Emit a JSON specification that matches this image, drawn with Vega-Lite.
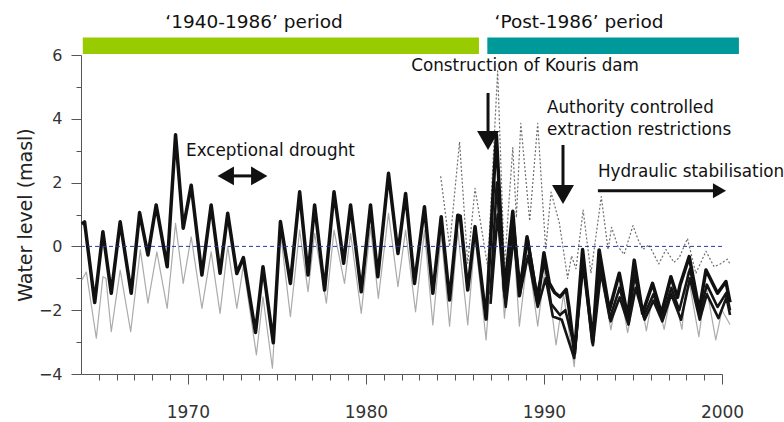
{
  "$schema": "https://vega.github.io/schema/vega-lite/v6.json",
  "width": 641,
  "height": 319,
  "autosize": {"type": "none"},
  "padding": {"left": 81, "top": 55, "right": 62, "bottom": 48},
  "background": "white",
  "config": {
    "view": {"stroke": null},
    "axis": {"grid": false, "domainColor": "#555555", "tickColor": "#555555", "labelColor": "#333333", "labelFont": "DejaVu Sans", "titleFont": "DejaVu Sans", "titleFontWeight": "normal"}
  },
  "datasets": {
    "a": [
      {"x":1964.05,"y":0.70},{"x":1964.2,"y":0.77},{"x":1964.77,"y":-1.76},{"x":1965.23,"y":0.46},{"x":1965.7,"y":-1.47},
      {"x":1966.2,"y":0.77},{"x":1966.82,"y":-1.47},{"x":1967.29,"y":1.06},{"x":1967.76,"y":-0.27},{"x":1968.22,"y":1.30},
      {"x":1968.84,"y":-0.64},{"x":1969.31,"y":3.5},{"x":1969.74,"y":0.57},{"x":1970.19,"y":1.92},{"x":1970.79,"y":-0.90},
      {"x":1971.31,"y":1.30},{"x":1971.81,"y":-0.84},{"x":1972.24,"y":1.04},{"x":1972.75,"y":-0.85},{"x":1973.12,"y":-0.35},
      {"x":1973.8,"y":-2.7},{"x":1974.22,"y":-0.64},{"x":1974.8,"y":-3.02},{"x":1975.2,"y":0.78},{"x":1975.76,"y":-1.16},
      {"x":1976.28,"y":1.71},{"x":1976.75,"y":-0.90},{"x":1977.12,"y":1.30},{"x":1977.68,"y":-1.37},{"x":1978.21,"y":1.71},
      {"x":1978.75,"y":-0.53},{"x":1979.14,"y":1.30},{"x":1979.74,"y":-1.42},{"x":1980.26,"y":1.30},{"x":1980.67,"y":-0.95},
      {"x":1981.27,"y":2.29},{"x":1981.8,"y":-0.22},{"x":1982.23,"y":1.66},{"x":1982.73,"y":-1.16},{"x":1983.29,"y":1.24},
      {"x":1983.76,"y":-1.47},{"x":1984.23,"y":0.93},{"x":1984.7,"y":-1.68},{"x":1985.16,"y":0.98},{"x":1985.3,"y":0.95},
      {"x":1985.72,"y":-1.37},{"x":1986.13,"y":0.62},{"x":1986.75,"y":-2.28},{"x":1987.33,"y":3.5},{"x":1987.78,"y":-1.4},
      {"x":1988.25,"y":1.1},{"x":1988.62,"y":-1.55},{"x":1989.05,"y":0.3},{"x":1989.65,"y":-1.75},{"x":1990.0,"y":-0.2},
      {"x":1990.3,"y":-1.15},{"x":1990.6,"y":-1.45},{"x":1990.9,"y":-1.58},{"x":1991.25,"y":-1.35},{"x":1991.4,"y":-1.9},
      {"x":1991.72,"y":-3.35},{"x":1992.17,"y":-0.1},{"x":1992.73,"y":-3.0},{"x":1993.1,"y":-0.11},{"x":1993.67,"y":-2.0},
      {"x":1994.23,"y":-0.84},{"x":1994.7,"y":-2.2},{"x":1995.07,"y":-0.43},{"x":1995.54,"y":-2.1},{"x":1996.1,"y":-1.16},
      {"x":1996.6,"y":-2.1},{"x":1997.13,"y":-0.95},{"x":1997.5,"y":-1.6},{"x":1997.65,"y":-1.2},{"x":1998.16,"y":-0.32},
      {"x":1998.72,"y":-2.0},{"x":1999.1,"y":-0.74},{"x":1999.75,"y":-1.47},{"x":2000.22,"y":-1.1},{"x":2000.45,"y":-1.75}
    ],
    "b": [
      {"x":1987.0,"y":-1.5},{"x":1987.35,"y":2.0},{"x":1987.8,"y":-1.6},{"x":1988.3,"y":0.7},{"x":1988.65,"y":-1.2},
      {"x":1989.1,"y":0.2},{"x":1989.6,"y":-1.5},{"x":1990.05,"y":-0.5},{"x":1990.4,"y":-1.8},{"x":1990.9,"y":-2.15},
      {"x":1991.2,"y":-2.0},{"x":1991.75,"y":-3.2},{"x":1992.2,"y":-0.4},{"x":1992.75,"y":-2.9},{"x":1993.15,"y":-0.5},
      {"x":1993.7,"y":-2.25},{"x":1994.25,"y":-1.3},{"x":1994.75,"y":-2.35},{"x":1995.1,"y":-0.9},{"x":1995.6,"y":-2.2},
      {"x":1996.15,"y":-1.5},{"x":1996.65,"y":-2.25},{"x":1997.15,"y":-1.3},{"x":1997.6,"y":-2.0},{"x":1998.2,"y":-0.7},
      {"x":1998.75,"y":-2.1},{"x":1999.15,"y":-1.2},{"x":1999.75,"y":-1.9},{"x":2000.25,"y":-1.45},{"x":2000.45,"y":-2.0}
    ],
    "c": [
      {"x":1987.0,"y":-1.8},{"x":1987.4,"y":1.0},{"x":1987.85,"y":-1.9},{"x":1988.3,"y":0.3},{"x":1988.65,"y":-1.5},
      {"x":1989.1,"y":-0.3},{"x":1989.65,"y":-1.9},{"x":1990.1,"y":-1.0},{"x":1990.5,"y":-2.2},{"x":1991.0,"y":-2.3},
      {"x":1991.7,"y":-3.5},{"x":1992.2,"y":-0.6},{"x":1992.75,"y":-3.1},{"x":1993.2,"y":-0.8},{"x":1993.75,"y":-2.35},
      {"x":1994.25,"y":-1.6},{"x":1994.75,"y":-2.45},{"x":1995.15,"y":-1.3},{"x":1995.65,"y":-2.3},{"x":1996.15,"y":-1.7},
      {"x":1996.65,"y":-2.35},{"x":1997.15,"y":-1.5},{"x":1997.7,"y":-2.3},{"x":1998.2,"y":-1.0},{"x":1998.75,"y":-2.3},
      {"x":1999.15,"y":-1.5},{"x":1999.8,"y":-2.25},{"x":2000.25,"y":-1.6},{"x":2000.45,"y":-2.15}
    ],
    "g": [
      {"x":1964.05,"y":-1.05},{"x":1964.3,"y":-0.8},{"x":1964.86,"y":-2.88},{"x":1965.23,"y":-0.95},{"x":1965.4,"y":-1.0},
      {"x":1965.7,"y":-2.67},{"x":1966.2,"y":-0.74},{"x":1966.79,"y":-2.67},{"x":1967.33,"y":-0.11},{"x":1967.76,"y":-1.78},
      {"x":1968.26,"y":-0.17},{"x":1968.84,"y":-1.94},{"x":1969.31,"y":0.72},{"x":1969.74,"y":-1.16},{"x":1970.19,"y":0.30},
      {"x":1970.79,"y":-1.94},{"x":1971.31,"y":-0.17},{"x":1971.81,"y":-2.10},{"x":1972.24,"y":0.0},{"x":1972.75,"y":-1.94},
      {"x":1973.12,"y":-0.6},{"x":1973.85,"y":-3.4},{"x":1974.22,"y":-1.58},{"x":1974.75,"y":-3.82},{"x":1975.2,"y":0.45},
      {"x":1975.76,"y":-2.2},{"x":1976.28,"y":0.51},{"x":1976.75,"y":-1.42},{"x":1977.12,"y":0.41},{"x":1977.78,"y":-1.78},
      {"x":1978.21,"y":0.51},{"x":1978.8,"y":-1.16},{"x":1979.14,"y":0.41},{"x":1979.74,"y":-2.10},{"x":1980.26,"y":0.61},
      {"x":1980.7,"y":-1.63},{"x":1981.27,"y":1.04},{"x":1981.8,"y":-1.26},{"x":1982.23,"y":0.51},{"x":1982.79,"y":-2.05},
      {"x":1983.29,"y":0.5},{"x":1983.76,"y":-2.46},{"x":1984.23,"y":0.4},{"x":1984.7,"y":-2.5},{"x":1985.16,"y":0.5},
      {"x":1985.72,"y":-2.46},{"x":1986.13,"y":0.3},{"x":1986.75,"y":-2.93},{"x":1987.35,"y":1.5},{"x":1987.78,"y":-2.25},
      {"x":1988.25,"y":0.6},{"x":1988.62,"y":-2.5},{"x":1989.1,"y":-0.2},{"x":1989.65,"y":-2.5},{"x":1990.1,"y":-0.5},
      {"x":1990.68,"y":-3.09},{"x":1991.1,"y":-1.5},{"x":1991.7,"y":-3.77},{"x":1992.17,"y":-0.4},{"x":1992.73,"y":-3.1},
      {"x":1993.1,"y":-0.6},{"x":1993.76,"y":-2.62},{"x":1994.23,"y":-1.2},{"x":1994.7,"y":-2.7},{"x":1995.26,"y":-1.1},
      {"x":1995.75,"y":-2.65},{"x":1996.2,"y":-1.3},{"x":1996.75,"y":-2.6},{"x":1997.2,"y":-1.3},{"x":1997.75,"y":-2.6},
      {"x":1998.06,"y":-0.8},{"x":1998.7,"y":-2.83},{"x":1999.1,"y":-1.2},{"x":1999.65,"y":-2.93},{"x":2000.0,"y":-2.0},
      {"x":2000.45,"y":-2.45}
    ],
    "d": [
      {"x":1984.2,"y":2.2},{"x":1984.7,"y":0.0},{"x":1985.26,"y":3.28},{"x":1985.72,"y":-0.53},{"x":1986.13,"y":1.82},
      {"x":1986.84,"y":-0.64},{"x":1987.4,"y":5.5},{"x":1987.78,"y":-0.64},{"x":1988.25,"y":3.1},{"x":1988.45,"y":0.9},
      {"x":1988.7,"y":3.86},{"x":1989.2,"y":0.8},{"x":1989.65,"y":3.86},{"x":1990.1,"y":-0.1},{"x":1990.4,"y":1.7},
      {"x":1990.86,"y":0.75},{"x":1991.33,"y":-1.0},{"x":1991.55,"y":-0.3},{"x":1991.8,"y":-0.7},{"x":1992.2,"y":1.14},
      {"x":1992.64,"y":-0.84},{"x":1993.22,"y":1.56},{"x":1993.6,"y":-0.1},{"x":1993.8,"y":0.6},{"x":1994.15,"y":0.0},
      {"x":1994.5,"y":-0.25},{"x":1995.0,"y":0.65},{"x":1995.3,"y":0.2},{"x":1995.55,"y":-0.1},{"x":1995.9,"y":0.05},
      {"x":1996.45,"y":-0.55},{"x":1996.85,"y":-0.1},{"x":1997.3,"y":-0.5},{"x":1997.6,"y":-0.35},{"x":1998.06,"y":0.25},
      {"x":1998.53,"y":-0.85},{"x":1999.1,"y":-0.15},{"x":1999.56,"y":-0.64},{"x":1999.9,"y":-0.55},{"x":2000.3,"y":-0.4},
      {"x":2000.45,"y":-0.55}
    ],
    "periods": [
      {"period":"1940-1986","start":1964.1,"end":1986.35},
      {"period":"Post-1986","start":1986.82,"end":2000.95}
    ],
    "arrows": [
      {"name":"drought","x":1972.2,"x2":1973.95,"y":2.21,"y2":2.21},
      {"name":"kouris","x":1986.86,"x2":1986.86,"y":4.81,"y2":3.4},
      {"name":"authority","x":1991.07,"x2":1991.07,"y":3.18,"y2":1.7},
      {"name":"hydraulic","x":1993.03,"x2":1999.9,"y":1.745,"y2":1.745}
    ],
    "heads": [
      {"name":"drought","dir":"left","head":"medium","x":1972.13,"y":2.21},
      {"name":"drought","dir":"right","head":"medium","x":1974.01,"y":2.21},
      {"name":"kouris","dir":"down","head":"large","x":1986.86,"y":3.32},
      {"name":"authority","dir":"down","head":"large","x":1991.07,"y":1.63},
      {"name":"hydraulic","dir":"right","head":"small","x":1999.86,"y":1.745}
    ],
    "periodLabels": [
      {"x":1973.72,"y":6.837,"label":"‘1940-1986’ period"},
      {"x":1991.97,"y":6.837,"label":"‘Post-1986’ period"}
    ],
    "centerNotes": [
      {"x":1988.94,"y":5.51,"label":"Construction of Kouris dam"}
    ],
    "leftNotes": [
      {"x":1969.9,"y":2.83,"label":"Exceptional drought"},
      {"x":1990.17,"y":4.17,"label":"Authority controlled"},
      {"x":1990.17,"y":3.49,"label":"extraction restrictions"},
      {"x":1993.03,"y":2.17,"label":"Hydraulic stabilisation"}
    ]
  },
  "layer": [
    {
      "data": {"name": "periods"},
      "mark": {"type": "rect"},
      "encoding": {
        "x": {"field": "start", "type": "quantitative", "axis": null, "scale": {"domain": [1964, 2000], "nice": false, "zero": false}},
        "x2": {"field": "end"},
        "y": {"datum": 6.03, "type": "quantitative", "axis": null, "scale": {"domain": [-4, 6], "nice": false, "zero": false}},
        "y2": {"datum": 6.55},
        "color": {"field": "period", "type": "nominal", "scale": {"domain": ["1940-1986", "Post-1986"], "range": ["#99cc00", "#009999"]}, "legend": null}
      }
    },
    {
      "data": {"name": "g"},
      "mark": {"type": "line", "stroke": "#ababab", "strokeWidth": 1.2, "strokeJoin": "round"},
      "encoding": {
        "x": {"field": "x", "type": "quantitative",
              "axis": {"orient": "bottom", "values": [1965,1966,1967,1968,1969,1970,1971,1972,1973,1974,1975,1976,1977,1978,1979,1980,1981,1982,1983,1984,1985,1986,1987,1988,1989,1990,1991,1992,1993,1994,1995,1996,1997,1998,1999],
                       "tickSize": 6, "labels": false, "domain": false, "title": null, "grid": false}},
        "y": {"field": "y", "type": "quantitative",
              "axis": {"orient": "left", "values": [-3, -1, 1, 3, 5], "tickSize": 5, "labels": false, "domain": false, "title": null, "grid": false}}
      }
    },
    {
      "data": {"name": "d"},
      "mark": {"type": "line", "stroke": "#6e6e6e", "strokeWidth": 1.2, "strokeDash": [2, 2], "strokeJoin": "round"},
      "encoding": {
        "x": {"field": "x", "type": "quantitative", "axis": null},
        "y": {"field": "y", "type": "quantitative", "axis": null}
      }
    },
    {
      "data": {"name": "c"},
      "mark": {"type": "line", "stroke": "#151515", "strokeWidth": 2.6, "strokeJoin": "round"},
      "encoding": {
        "x": {"field": "x", "type": "quantitative", "axis": null},
        "y": {"field": "y", "type": "quantitative", "axis": null}
      }
    },
    {
      "data": {"name": "b"},
      "mark": {"type": "line", "stroke": "#151515", "strokeWidth": 2.6, "strokeJoin": "round"},
      "encoding": {
        "x": {"field": "x", "type": "quantitative", "axis": null},
        "y": {"field": "y", "type": "quantitative", "axis": null}
      }
    },
    {
      "data": {"name": "a"},
      "mark": {"type": "line", "stroke": "#111111", "strokeWidth": 3.5, "strokeJoin": "round"},
      "encoding": {
        "x": {"field": "x", "type": "quantitative",
              "axis": {"orient": "bottom", "values": [1970, 1980, 1990, 2000], "tickSize": 10, "labelFontSize": 17, "labelPadding": 20, "title": null, "grid": false, "format": "d", "labelFlush": false}},
        "y": {"field": "y", "type": "quantitative",
              "axis": {"orient": "left", "values": [-4, -2, 0, 2, 4, 6], "tickSize": 10, "labelFontSize": 16, "labelPadding": 9, "grid": false,
                       "title": "Water level (masl)", "titleFontSize": 19, "titleColor": "#222222", "titleX": -50, "titleY": 159.5, "titleAngle": -90, "titleAlign": "center", "titleBaseline": "alphabetic"}}
      }
    },
    {
      "data": {"values": [{}]},
      "mark": {"type": "rule", "stroke": "#2a3aa0", "strokeWidth": 1, "strokeDash": [4, 3]},
      "encoding": {"y": {"datum": 0, "type": "quantitative", "axis": null}}
    },
    {
      "data": {"name": "arrows"},
      "mark": {"type": "rule", "stroke": "#111111", "strokeWidth": 3},
      "encoding": {
        "x": {"field": "x", "type": "quantitative", "axis": null},
        "x2": {"field": "x2"},
        "y": {"field": "y", "type": "quantitative", "axis": null},
        "y2": {"field": "y2"}
      }
    },
    {
      "data": {"name": "heads"},
      "mark": {"type": "point", "filled": true, "color": "#111111", "opacity": 1},
      "encoding": {
        "x": {"field": "x", "type": "quantitative", "axis": null},
        "y": {"field": "y", "type": "quantitative", "axis": null},
        "shape": {"field": "dir", "type": "nominal", "scale": {"domain": ["left", "right", "down"], "range": ["triangle-left", "triangle-right", "triangle-down"]}, "legend": null},
        "size": {"field": "head", "type": "ordinal", "scale": {"domain": ["large", "medium", "small"], "range": [480, 230, 170]}, "legend": null}
      }
    },
    {
      "data": {"name": "periodLabels"},
      "mark": {"type": "text", "font": "DejaVu Sans", "fontSize": 18.5, "align": "center", "baseline": "alphabetic", "color": "#111111"},
      "encoding": {
        "x": {"field": "x", "type": "quantitative", "axis": null},
        "y": {"field": "y", "type": "quantitative", "axis": null},
        "text": {"field": "label"}
      }
    },
    {
      "data": {"name": "centerNotes"},
      "mark": {"type": "text", "font": "DejaVu Sans", "fontSize": 16.8, "align": "center", "baseline": "alphabetic", "color": "#111111"},
      "encoding": {
        "x": {"field": "x", "type": "quantitative", "axis": null},
        "y": {"field": "y", "type": "quantitative", "axis": null},
        "text": {"field": "label"}
      }
    },
    {
      "data": {"name": "leftNotes"},
      "mark": {"type": "text", "font": "DejaVu Sans", "fontSize": 16.8, "align": "left", "baseline": "alphabetic", "color": "#111111"},
      "encoding": {
        "x": {"field": "x", "type": "quantitative", "axis": null},
        "y": {"field": "y", "type": "quantitative", "axis": null},
        "text": {"field": "label"}
      }
    }
  ],
  "resolve": {"axis": {"x": "independent", "y": "independent"}}
}
